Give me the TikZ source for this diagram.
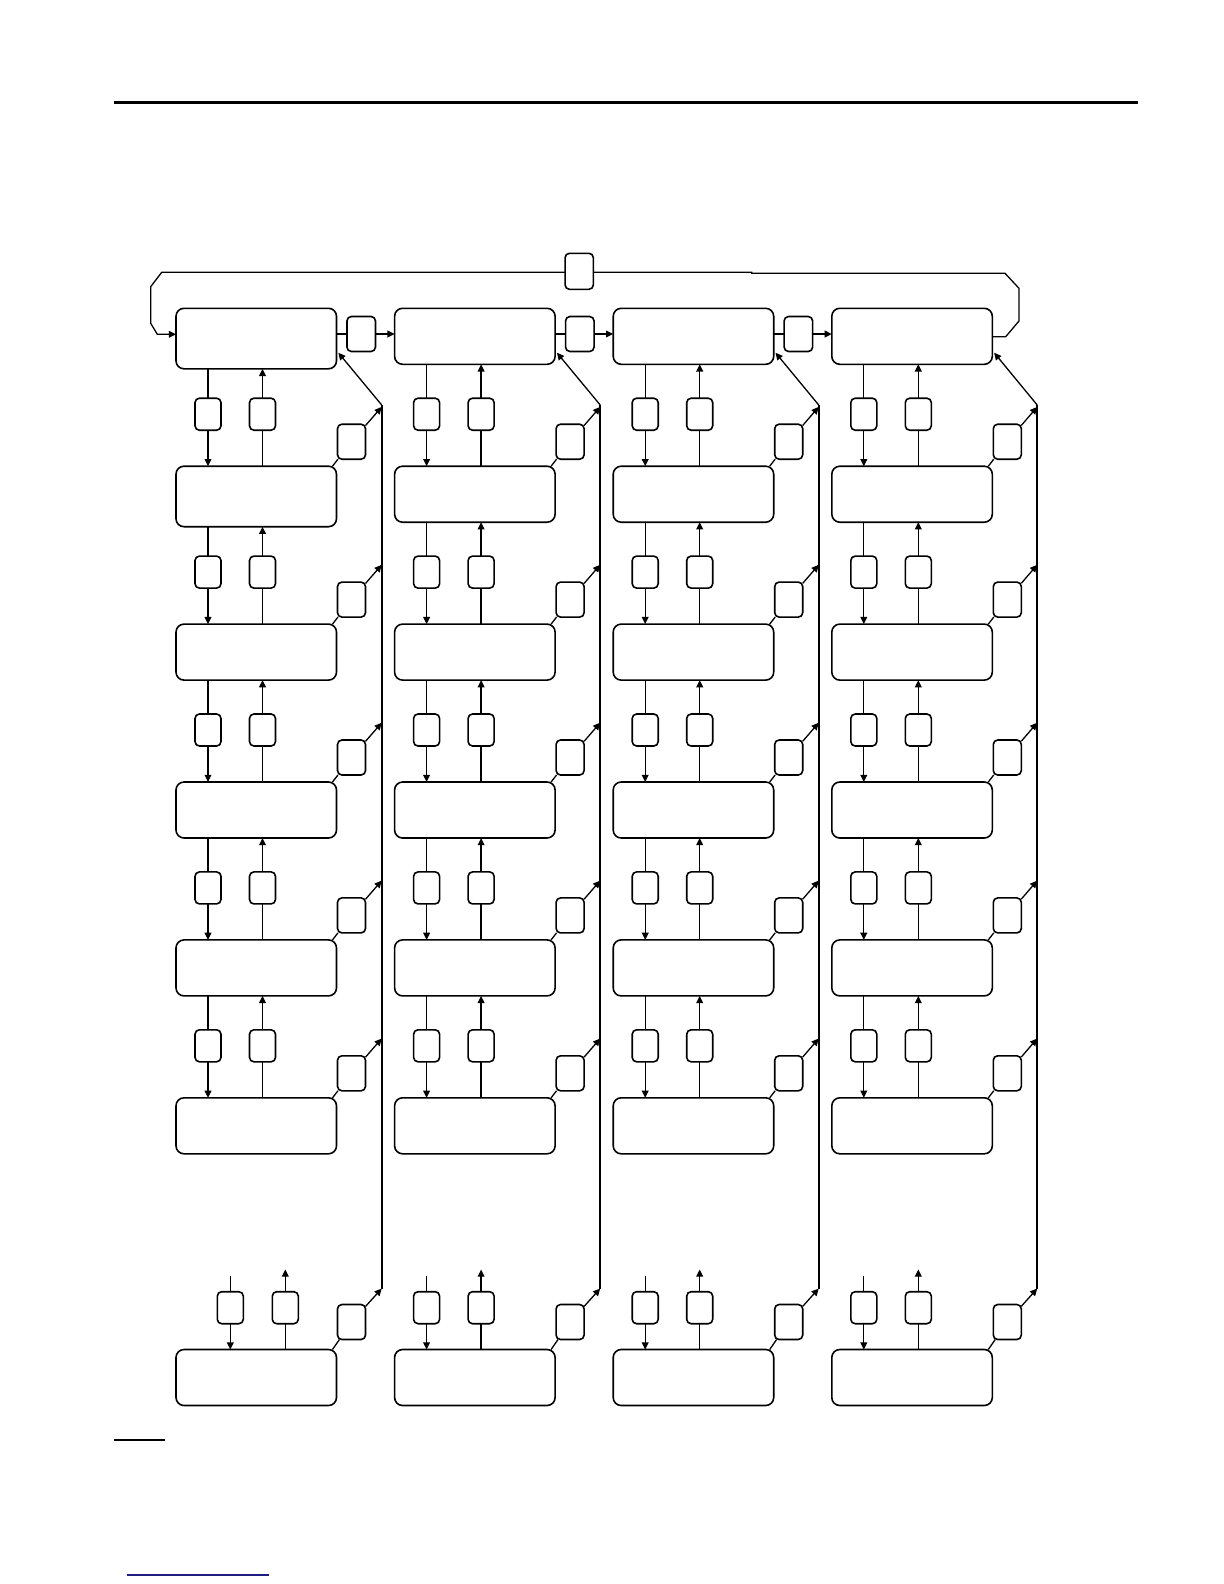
\documentclass[tikz,border=0pt]{standalone}
\usetikzlibrary{arrows.meta,calc}
\definecolor{linkblue}{RGB}{30,30,130}
\begin{document}
\begin{tikzpicture}[x=0.5bp,y=-0.5bp,
  bigbox/.style={draw,line width=0.8pt,rounded corners=4bp,minimum width=80.25bp,minimum height=28bp,inner sep=0pt,outer sep=0pt},
  vbox/.style={draw,line width=0.8pt,rounded corners=2.2bp,minimum width=13bp,minimum height=16bp,inner sep=0pt,outer sep=0pt},
  dbox/.style={vbox,minimum width=14bp,minimum height=17.5bp},
  conn/.style={line width=0.65pt},
  arr/.style={conn,-{Triangle[length=3.6bp,width=3.4bp]}},
  bus/.style={line width=1pt}]
\useasboundingbox (0,0) rectangle (1224,1584);
% header and footer rules
\draw[line width=1.5bp] (114,102) -- (1138,102);
\draw[line width=1bp] (114,1440) -- (165,1440);
\draw[line width=0.7bp,linkblue] (126.7,1575) -- (269,1575);
% columns
\foreach \k in {0,1,2,3}{
  \pgfmathsetmacro\L{176+218.6*\k}
  \pgfmathsetmacro\R{\L+160.5}
  \pgfmathsetmacro\B{381.7+218.5*\k}
  \foreach \r in {0,...,5}{
    \pgfmathsetmacro\T{308.3+157.9*\r}
    \pgfmathsetmacro\h{56+4.5*(\k==0)*(\r<2)}
    \node[bigbox,minimum height=\h*0.5bp] (T-\k-\r) at (\L+80.25,\T+\h/2) {};
    \ifnum\r>0
      \pgfmathtruncatemacro\p{\r-1}
      \node[vbox] (D-\k-\r) at (\L+32,\T-52) {};
      \node[vbox] (U-\k-\r) at (\L+86.5,\T-52) {};
      \draw[conn] (T-\k-\p.south -| D-\k-\r) -- (D-\k-\r);
      \draw[arr] (D-\k-\r) -- (D-\k-\r |- T-\k-\r.north);
      \draw[conn] (U-\k-\r |- T-\k-\r.north) -- (U-\k-\r);
      \draw[arr] (U-\k-\r) -- (U-\k-\r |- T-\k-\p.south);
      \node[dbox] (G-\k-\r) at (\R+15,\T-24.5) {};
      \coordinate (S-\k-\r) at (\R-4,\T);
      \coordinate (Q-\k-\r) at (\B,\T-59.3);
      \draw[conn] (S-\k-\r) -- (G-\k-\r);
      \draw[arr] (G-\k-\r) -- (Q-\k-\r);
    \fi
  }
  % bus
  \coordinate (BT-\k) at (\B,405);
  \coordinate (BB-\k) at (\B,1288.5);
  \draw[bus] (BT-\k) -- (BB-\k);
  \coordinate (A-\k) at (\R+1.8,352.7);
  \draw[arr] (BT-\k) -- (A-\k);
  % bottom row
  \pgfmathsetmacro\da{32+22.3*(\k==0)}
  \pgfmathsetmacro\db{86.5+22.8*(\k==0)}
  \node[bigbox] (T-\k-6) at (\L+80.25,1349.5+28) {};
  \node[vbox] (D-\k-6) at (\L+\da,1307.7) {};
  \node[vbox] (U-\k-6) at (\L+\db,1307.7) {};
  \coordinate (DI-\k) at (\L+\da,1276);
  \coordinate (UO-\k) at (\L+\db,1269.5);
  \draw[conn] (DI-\k) -- (D-\k-6);
  \draw[arr] (D-\k-6) -- (D-\k-6 |- T-\k-6.north);
  \draw[conn] (U-\k-6 |- T-\k-6.north) -- (U-\k-6);
  \draw[arr] (U-\k-6) -- (UO-\k);
  \node[dbox] (G-\k-6) at (\R+15,1322) {};
  \coordinate (S-\k-6) at (\R-4,1349.5);
  \draw[conn] (S-\k-6) -- (G-\k-6);
  \draw[arr] (G-\k-6) -- (BB-\k);
}
% links between top boxes
\foreach \k in {0,1,2}{
  \pgfmathtruncatemacro\kk{\k+1}
  \pgfmathsetmacro\R{176+218.6*\k+160.5}
  \node[dbox,minimum width=14.25bp] (H-\k) at (\R+24.7,334) {};
  \draw[conn] (T-\k-0.east |- H-\k) -- (H-\k);
  \draw[arr] (H-\k) -- (T-\kk-0.west |- H-\k);
}
% top loop
\node[dbox,minimum width=14.15bp,minimum height=18bp] (LP) at (579.2,271.3) {};
\coordinate (ly) at (0,272.3);
\coordinate (lyl) at (0,334.3);
\coordinate (lyr) at (0,336.7);
\draw[arr] (LP.west |- ly) -- (161.7,272.3) -- (150.7,286.7) -- (150.7,323.3) -- (157.3,334.3) -- (T-0-0.west |- lyl);
\draw[conn] (T-3-0.east |- lyr) -- (1005.7,336.7) -- (1019,321) -- (1019,288.3) -- (1005,273.3) -- (751.7,273.3) -- (751.7,272.3) -- (LP.east |- ly);
\end{tikzpicture}
\end{document}
